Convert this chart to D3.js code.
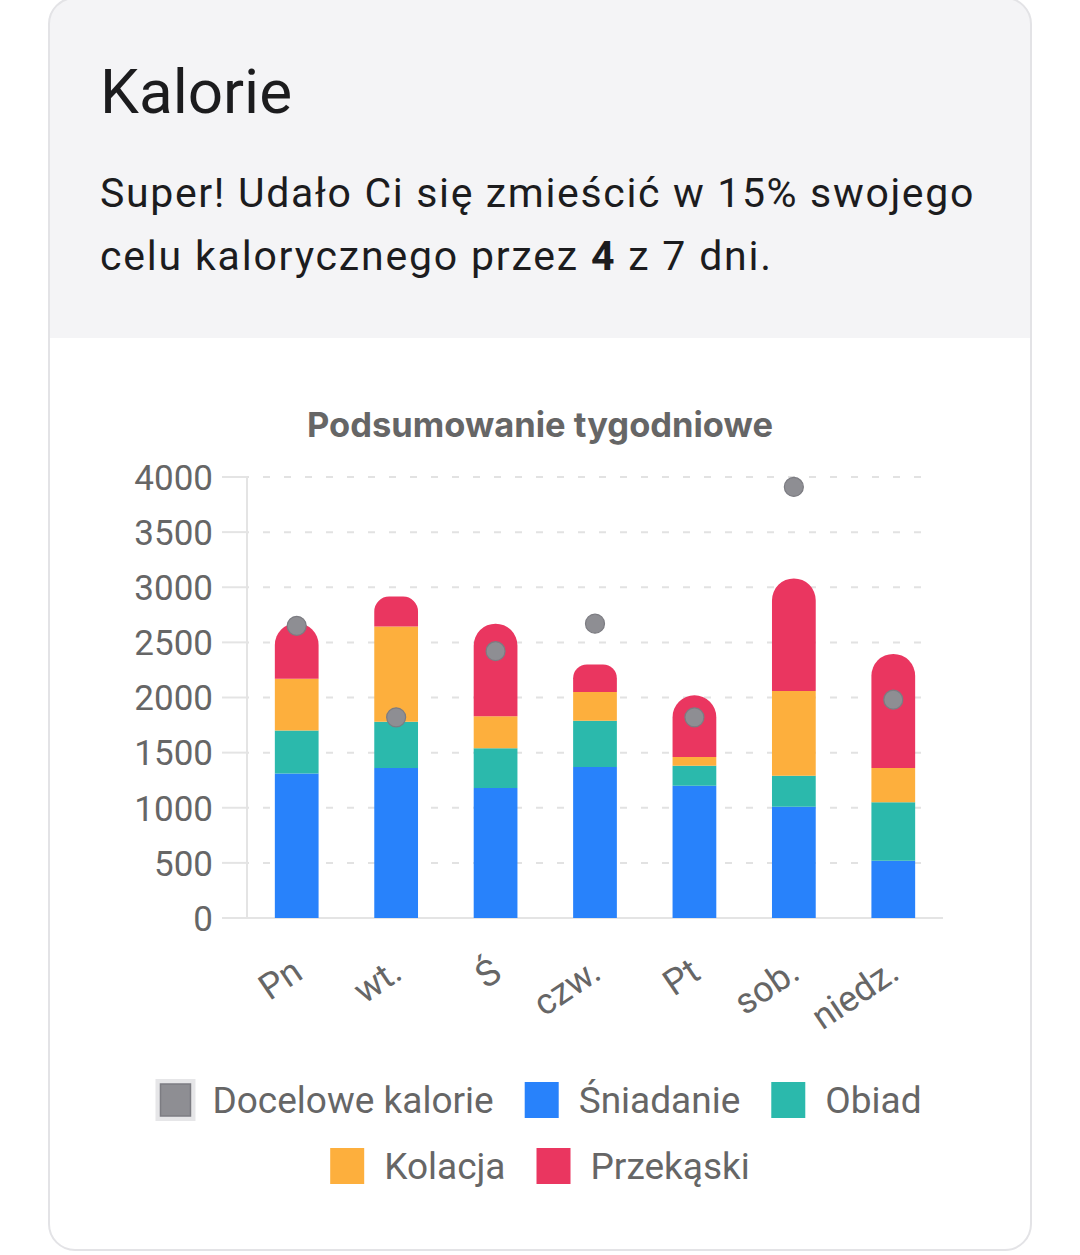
<!DOCTYPE html>
<html>
<head>
<meta charset="utf-8">
<script src="https://cdn.jsdelivr.net/npm/d3@7"></script>
<style>
  html, body { margin: 0; padding: 0; background: #ffffff; }
  svg { display: block; }
</style>
</head>
<body>
<svg id="c" width="1080" height="1255"></svg>
<script>
// ---- data ----
const days = ["Pn", "wt.", "Ś", "czw.", "Pt", "sob.", "niedz."];
const sniadanie = [1310, 1360, 1180, 1370, 1200, 1010, 520];
const obiad     = [390, 420, 360, 420, 180, 280, 530];
const kolacja   = [470, 865, 290, 260, 80, 770, 310];
const przekaski = [505, 270, 840, 250, 560, 1020, 1035];
const docelowe  = [2650, 1820, 2420, 2670, 1820, 3910, 1980];
const yTicks = [0, 500, 1000, 1500, 2000, 2500, 3000, 3500, 4000];
const seriesNames = ["Śniadanie", "Obiad", "Kolacja", "Przekąski"];
const seriesColors = ["#2882fb", "#2bb9ac", "#fdaf3d", "#ea3660"];
const targetName = "Docelowe kalorie";
const targetColor = "#8e8e93";

const svg = d3.select("#c");
const font = "Roboto, 'Noto Sans', sans-serif";

// ---- card ----
const cardX = 49, cardY = -2, cardW = 982, cardH = 1252, cardR = 26;
svg.append("defs").append("clipPath").attr("id", "cardclip")
  .append("rect").attr("x", cardX).attr("y", cardY).attr("width", cardW).attr("height", cardH).attr("rx", cardR);
svg.append("rect").attr("x", cardX).attr("y", cardY).attr("width", cardW).attr("height", cardH)
  .attr("rx", cardR).attr("fill", "#ffffff");
svg.append("rect").attr("x", cardX).attr("y", cardY).attr("width", cardW).attr("height", 338 - cardY)
  .attr("fill", "#f4f4f6").attr("clip-path", "url(#cardclip)");
svg.append("rect").attr("x", cardX).attr("y", cardY).attr("width", cardW).attr("height", cardH)
  .attr("rx", cardR).attr("fill", "none").attr("stroke", "#e3e3e6").attr("stroke-width", 2);

svg.append("text").attr("x", 100).attr("y", 113).attr("font-family", font).attr("font-size", 62)
  .attr("fill", "#1c1c1e").text("Kalorie");
svg.append("text").attr("x", 100).attr("y", 207).attr("font-family", font).attr("font-size", 41)
  .attr("letter-spacing", 1.65).attr("fill", "#1c1c1e").text("Super! Udało Ci się zmieścić w 15% swojego");
const l2 = svg.append("text").attr("x", 100).attr("y", 270).attr("font-family", font).attr("font-size", 41)
  .attr("letter-spacing", 1.8).attr("fill", "#1c1c1e");
l2.append("tspan").text("celu kalorycznego przez ");
l2.append("tspan").attr("font-weight", 700).text("4");
l2.append("tspan").text(" z 7 dni.");

// ---- chart title ----
svg.append("text").attr("x", 540).attr("y", 437).attr("text-anchor", "middle")
  .attr("font-family", "Inter, 'Open Sans', sans-serif").attr("font-weight", 700).attr("font-size", 34.5)
  .attr("fill", "#666666").text("Podsumowanie tygodniowe");

// ---- scales ----
const x = d3.scaleBand().domain(days).range([247, 943]).padding(0);
const y = d3.scaleLinear().domain([0, 4000]).range([918, 477]);
const barW = x.step() * 0.44;

// grid lines
const g = svg.append("g");
g.selectAll("line.grid").data(yTicks.filter(t => t > 0)).join("line")
  .attr("x1", 247).attr("x2", 930).attr("y1", d => y(d)).attr("y2", d => y(d))
  .attr("stroke", "#e2e2e2").attr("stroke-width", 2).attr("stroke-dasharray", "7 14").attr("stroke-dashoffset", -16);
// tick marks on y axis
g.selectAll("line.tk").data(yTicks).join("line")
  .attr("x1", 222).attr("x2", 247).attr("y1", d => y(d)).attr("y2", d => y(d))
  .attr("stroke", "#e4e4e4").attr("stroke-width", 2);
// y axis line
g.append("line").attr("x1", 247).attr("x2", 247).attr("y1", y(4000)).attr("y2", y(0))
  .attr("stroke", "#e4e4e4").attr("stroke-width", 2);
// x axis line
g.append("line").attr("x1", 222).attr("x2", 943).attr("y1", y(0)).attr("y2", y(0))
  .attr("stroke", "#e4e4e4").attr("stroke-width", 2);

// y axis labels
const yAxis = d3.axisLeft(y).tickValues(yTicks).tickFormat(d3.format("d")).tickSize(0).tickPadding(0);
const ya = svg.append("g").attr("transform", "translate(213,0)").call(yAxis);
ya.select(".domain").remove();
ya.selectAll("text").attr("font-family", font).attr("font-size", 35).attr("fill", "#666666")
  .attr("dy", "0.35em");

// ---- bars ----
const stackData = days.map((d, i) => ({day: d, Śniadanie: sniadanie[i], Obiad: obiad[i], Kolacja: kolacja[i], Przekąski: przekaski[i]}));
const stack = d3.stack().keys(seriesNames)(stackData);

function segPath(x0, w, yTop, yBot, rounded) {
  const h = yBot - yTop;
  if (!rounded) return `M${x0},${yBot}V${yTop}H${x0 + w}V${yBot}Z`;
  const r = Math.min(w / 2, h / 2);
  return `M${x0},${yBot}V${yTop + r}A${r},${r} 0 0 1 ${x0 + r},${yTop}H${x0 + w - r}A${r},${r} 0 0 1 ${x0 + w},${yTop + r}V${yBot}Z`;
}

stack.forEach((layer, li) => {
  svg.append("g").selectAll("path").data(layer).join("path")
    .attr("d", d => {
      const cx = x(d.data.day) + x.bandwidth() / 2;
      return segPath(cx - barW / 2, barW, y(d[1]), y(d[0]), li === stack.length - 1);
    })
    .attr("fill", seriesColors[li]);
});

// target dots
svg.append("g").selectAll("circle").data(docelowe).join("circle")
  .attr("cx", (d, i) => x(days[i]) + x.bandwidth() / 2)
  .attr("cy", d => y(d))
  .attr("r", 9.5)
  .attr("fill", targetColor).attr("stroke", "#7c7c82").attr("stroke-width", 1.2);

// x labels
svg.append("g").selectAll("text").data(days).join("text")
  .attr("transform", d => `translate(${x(d) + x.bandwidth() / 2 + 1},${967}) rotate(-34)`)
  .attr("text-anchor", "end").attr("dy", "0.35em")
  .attr("font-family", font).attr("font-size", 36).attr("fill", "#666666")
  .text(d => d);

// ---- legend ----
const legendItems = [
  {name: targetName, color: targetColor, target: true},
  ...seriesNames.map((n, i) => ({name: n, color: seriesColors[i]}))
];
const rows = [[0, 1, 2], [3, 4]];
const rowY = [1100, 1166];
const boxW = 34, boxH = 36, gapBoxText = 20, gapItem = 31;
const legendFont = 37;
rows.forEach((row, ri) => {
  const rg = svg.append("g");
  const items = row.map(idx => legendItems[idx]);
  const groups = items.map(it => {
    const ig = rg.append("g");
    if (it.target) {
      ig.append("rect").attr("x", -3).attr("y", -boxH / 2 - 3).attr("width", boxW + 6).attr("height", boxH + 6)
        .attr("fill", "#e6e6e8");
      ig.append("rect").attr("x", 2).attr("y", -boxH / 2 + 2).attr("width", boxW - 4).attr("height", boxH - 4)
        .attr("fill", it.color).attr("stroke", "#7c7c82").attr("stroke-width", 1.5);
    } else {
      ig.append("rect").attr("x", 0).attr("y", -boxH / 2).attr("width", boxW).attr("height", boxH).attr("fill", it.color);
    }
    const t = ig.append("text").attr("x", boxW + gapBoxText).attr("y", 0).attr("dy", "0.35em")
      .attr("font-family", font).attr("font-size", legendFont).attr("fill", "#666666").text(it.name);
    const w = boxW + gapBoxText + t.node().getComputedTextLength();
    return {ig, w};
  });
  const total = d3.sum(groups, d => d.w) + gapItem * (groups.length - 1);
  let start = 540 - total / 2;
  groups.forEach(gr => {
    gr.ig.attr("transform", `translate(${start},${rowY[ri]})`);
    start += gr.w + gapItem;
  });
});
</script>
</body>
</html>
